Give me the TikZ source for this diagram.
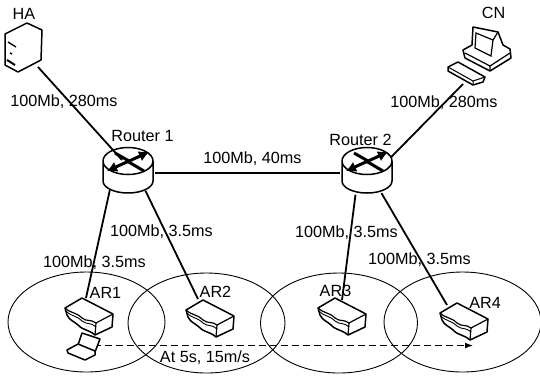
\documentclass[tikz,border=0pt]{standalone}
\usepackage{fontspec}
\setmainfont{Liberation Sans}
\usetikzlibrary{positioning,arrows.meta}
\usetikzlibrary{shapes.geometric}

\begin{document}
\begin{tikzpicture}[
    x=1pt, y=-1pt,
    >=Latex,
    lbl/.style={font=\fontsize{16.2}{18}\selectfont, inner sep=0pt},
    cell/.style={ellipse, draw, line width=0.9pt, minimum width=157pt, minimum height=100pt, inner sep=0pt},
    anchorbox/.style={circle, inner sep=0pt, minimum size=54pt},
    link/.style={line width=1.8pt},
    icon/.style={line width=1.5pt, line join=round, fill=white},
    thin icon/.style={line width=0.9pt},
    routericon/.pic={
      \draw[icon] (-25,0) -- (-25,20) arc[start angle=180, end angle=0, x radius=25, y radius=12]
        -- (25,0) arc[start angle=0, end angle=360, x radius=25, y radius=13.5];
      \draw[line width=3pt, -{Latex[length=10pt,width=11pt]}] (-1,1) -- (21,-9);
      \draw[line width=3pt, -{Latex[length=10pt,width=11pt]}] (1,0) -- (-21,10);
      \draw[line width=3pt] (16,10) -- (-1,0);
      \draw[line width=3pt] (-13,-8) -- (1,0);
    },
    aricon/.pic={
      \draw[icon] (0,0) -- (31,16) -- (30,29) -- (13,37)
        .. controls (6,31) and (2,33) .. (-4,27) .. controls (-8,23) and (-12,23) .. (-15,17)
        -- (-17,10) -- cycle;
      \draw[line width=1.2pt] (-17,10) .. controls (-10,16) and (-6,14) .. (0,20)
        .. controls (5,24) and (9,21) .. (14,25) -- (31,16);
      \draw[thin icon] (-16,13) .. controls (-10,19) and (-6,17) .. (0,23)
        .. controls (5,27) and (9,24) .. (14,29);
      \draw[line width=1.2pt] (14,25) -- (13,37);
    }
  ]
  \useasboundingbox (0,0) rectangle (540,376);

  % cells
  \node[cell] (c1) at (86.5,322) {};
  \node[cell] (c2) at (206.5,323) {};
  \node[cell] (c3) at (339,323) {};
  \node[cell] (c4) at (462.5,322) {};

  % movement
  \coordinate (mnstart) at (83,345.5);
  \coordinate (mnend) at (473,345.5);
  \draw[->, line width=1.1pt, dash pattern=on 7pt off 4pt] (mnstart) -- (mnend);

  % routers
  \node[anchorbox] (r1) at (128,170) {};
  \node[anchorbox] (r2) at (367,170) {};
  \path (128,161) pic {routericon};
  \path (367,161) pic {routericon};

  % access routers
  \coordinate (ar1) at (86,298);
  \coordinate (ar2) at (198,299);
  \coordinate (ar3) at (342,300);
  \coordinate (ar4) at (447,305);
  \path (82,298) pic {aricon};
  \path (203,300) pic {aricon};
  \path (335,298) pic {aricon};
  \path (457,303) pic {aricon};

  % HA
  \coordinate (ha) at (38,67);
  \draw[icon] (27,23) -- (42,30) -- (41,60) -- (18,72) -- (5,65) -- (5,34) -- cycle;
  \draw[line width=1.4pt] (8,42) -- (16,47) (10,53) -- (12,54);
  \draw[line width=2pt] (7,60) -- (15,65);

  % CN
  \coordinate (cn) at (463,84);
  \draw[icon] (463,50) -- (465,58) -- (490,71) -- (511,58) -- (510,49) -- (503,45) -- (498,32) -- (473,27) -- (472,45) -- cycle;
  \draw[line width=1.2pt, fill=white] (476,33) -- (493,40) -- (491,56) -- (475,48) -- cycle;
  \draw[line width=1.2pt] (465,53) -- (490,66) -- (510,53) (490,66) -- (490,71) (498,32) -- (493,40);
  \draw[icon] (448,67) -- (458,62) -- (485,77) -- (483,82) -- (473,85) -- (448,71) -- cycle;
  \draw[line width=1pt] (448,67) -- (473,81) -- (485,77) (473,81) -- (473,85);

  % laptop
  \draw[icon] (78,345) -- (82,333) -- (100,339) -- (95,352) -- cycle;
  \draw[icon] (67,350) -- (78,344) -- (95,351) -- (95,355) -- (85,360) -- (68,353) -- cycle;

  % links
  \coordinate (r1in) at (122,160);
  \draw[link] (ha) -- (r1in);
  \draw[link] (r1.-7) -- (r2.187);
  \draw[link] (r2.28) -- (cn);
  \draw[link] (r1.228) -- (ar1);
  \draw[link] (r1.310) -- (ar2);
  \draw[link] (r2.245) -- (ar3);
  \draw[link] (r2.-58) -- (ar4);

  % labels
  \node[lbl] (haname) at (24,14) {HA};
  \node[lbl] (cnname) at (493.5,13) {CN};
  \node[lbl] (r1name) at (142.5,136) {Router 1};
  \node[lbl] (r2name) at (360.5,140) {Router 2};
  \node[lbl] (ar1name) at (105.5,293) {AR1};
  \node[lbl] (ar2name) at (215.5,292) {AR2};
  \node[lbl] (ar3name) at (335.5,291) {AR3};
  \node[lbl] (ar4name) at (485,303) {AR4};
  \node[lbl] (lha) at (64,102) {100Mb, 280ms};
  \node[lbl] (lcn) at (444,103) {100Mb, 280ms};
  \node[lbl] (lrr) at (252.5,159) {100Mb, 40ms};
  \node[lbl] (lar1) at (94.5,263) {100Mb, 3.5ms};
  \node[lbl] (lar2) at (161.5,232) {100Mb, 3.5ms};
  \node[lbl] (lar3) at (346.5,233) {100Mb, 3.5ms};
  \node[lbl] (lar4) at (419.5,260) {100Mb, 3.5ms};
  \node[lbl] (lmove) at (205,358) {At 5s, 15m/s};

\end{tikzpicture}
\end{document}
